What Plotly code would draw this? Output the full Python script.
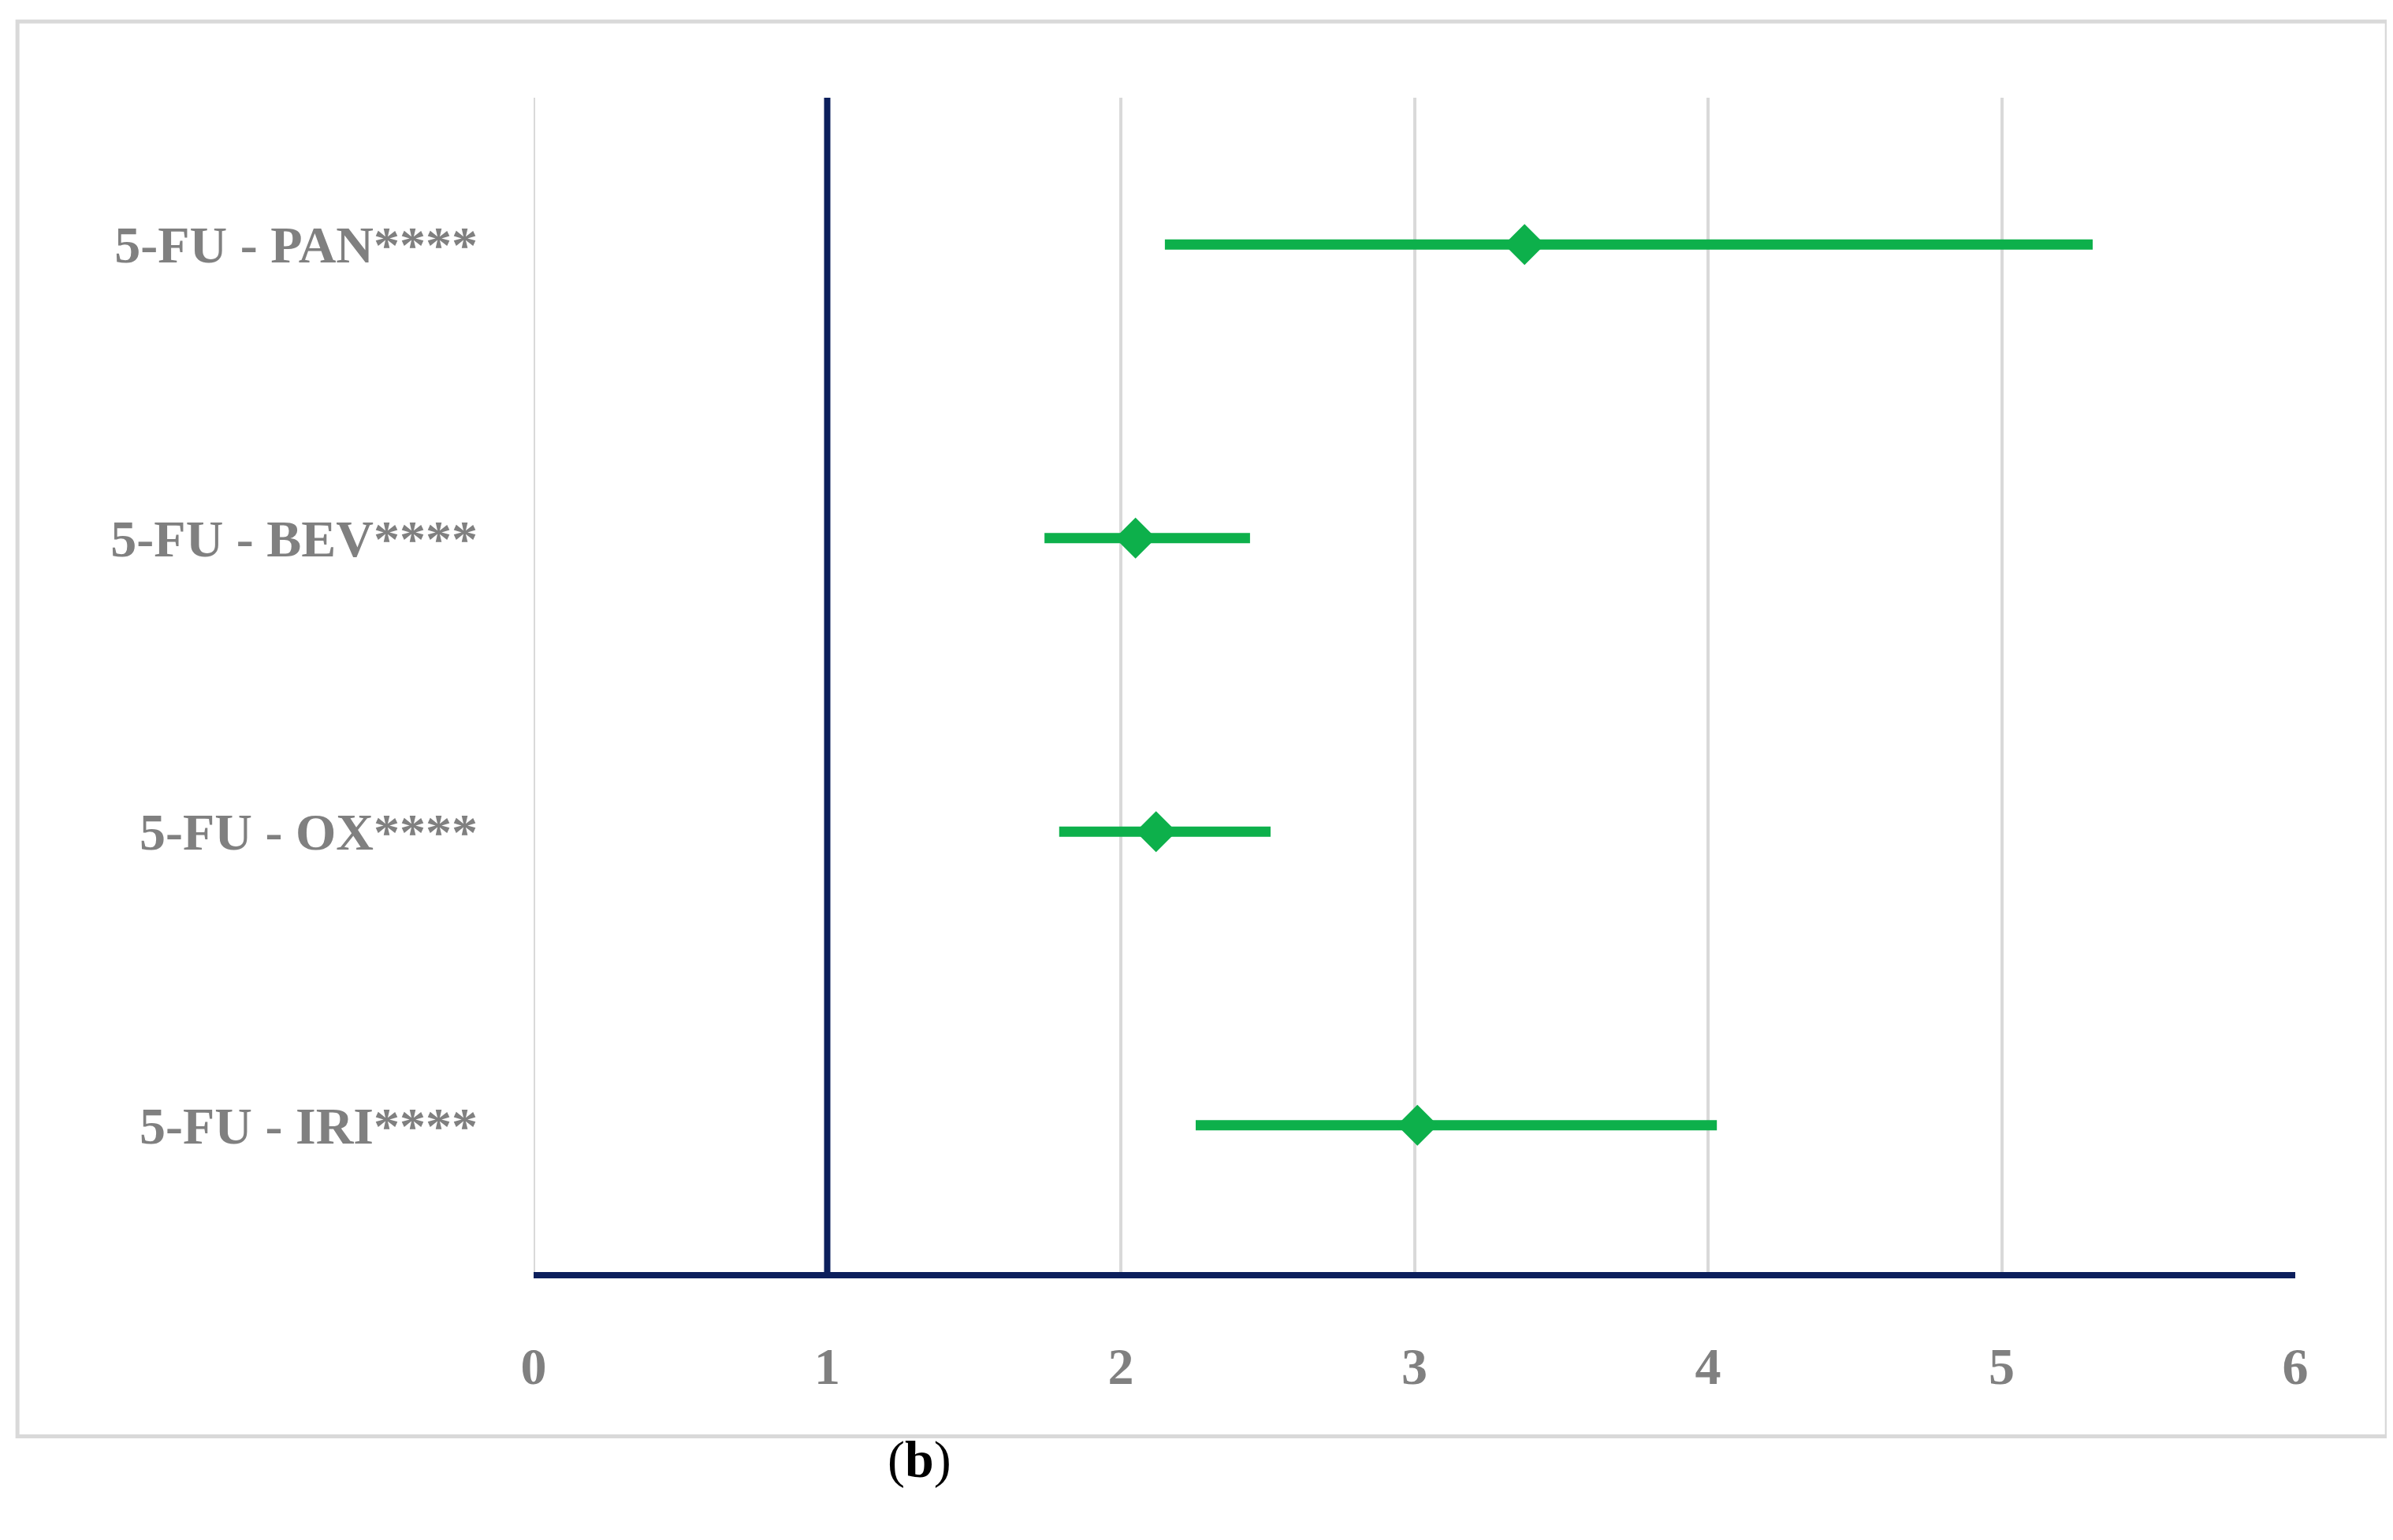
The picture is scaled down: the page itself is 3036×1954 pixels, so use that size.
import plotly.graph_objects as go

categories = ["5-FU - IRI****", "5-FU - OX****", "5-FU - BEV****", "5-FU - PAN****"]
center = [3.01, 2.12, 2.05, 3.375]
low = [2.255, 1.79, 1.74, 2.15]
high = [4.03, 2.51, 2.44, 5.31]

green = "#0db04b"
navy = "#0c1f5c"
gray = "#808080"
font = "Liberation Serif"

fig = go.Figure(go.Scatter(
    x=center, y=categories, mode="markers",
    marker=dict(symbol="diamond", size=40, color=green),
    error_x=dict(type="data", symmetric=False,
                 array=[h - c for h, c in zip(high, center)],
                 arrayminus=[c - l for c, l in zip(center, low)],
                 color=green, thickness=13, width=0),
    showlegend=False,
))

fig.update_xaxes(range=[0, 6], dtick=1, showgrid=True, gridcolor="#d9d9d9", gridwidth=4,
                 showline=True, linecolor=navy, linewidth=8, zeroline=False,
                 ticklabelstandoff=55,
                 tickfont=dict(family=font, size=66, color=gray, weight="bold"))
fig.update_yaxes(type="category", categoryarray=categories, range=[-0.5, 3.5],
                 showgrid=False, showline=False, zeroline=False, ticklabelstandoff=70,
                 tickfont=dict(family=font, size=66, color=gray, weight="bold"))

# gridline at 0 (hidden by the axis edge otherwise)
fig.add_shape(type="line", xref="x", yref="paper", x0=0, x1=0, y0=0, y1=1,
              line=dict(color="#d9d9d9", width=4), layer="below")
# reference line at 1
fig.add_shape(type="line", xref="x", yref="paper", x0=1, x1=1, y0=0, y1=1,
              line=dict(color=navy, width=8))
# outer border
fig.add_shape(type="rect", xref="paper", yref="paper", x0=-0.293, x1=1.052, y0=-0.14, y1=1.065,
              line=dict(color="#d9d9d9", width=5))
fig.add_annotation(xref="paper", yref="paper", x=0.2, y=-0.186, showarrow=False,
                   text="(<b>b</b>)", font=dict(family=font, size=66, color="black"))

fig.update_layout(width=3036, height=1954, plot_bgcolor="white", paper_bgcolor="white",
                  margin=dict(l=669, r=132, t=116, b=348))
fig.write_html("out.html")
